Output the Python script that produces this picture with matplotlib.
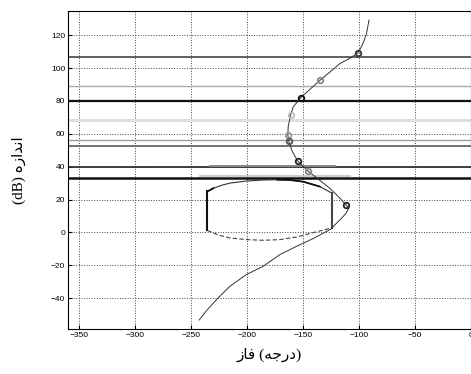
import matplotlib
matplotlib.use('Agg')
import matplotlib.pyplot as plt
import numpy as np

# open-loop response L(jw) on the Nichols plane (phase deg, magnitude dB)
loop_phase = [-90.8, -93.1, -96.5, -100.6, -108.0, -117.0, -126.0, -134.8, -143.5,
              -151.8, -158.6, -161.0, -163.1, -163.4, -162.5, -159.5, -154.7, -145.8,
              -135.0, -125.9, -117.0, -111.0, -108.8, -111.5, -115.5, -121.0, -124.4,
              -140.0, -155.6, -170.5, -185.4, -200.3, -215.0, -227.0, -236.0, -242.6]
loop_mag = [129.3, 120.8, 114.5, 109.3, 106.0, 102.7, 97.5, 92.5, 87.2,
            82.0, 76.4, 71.2, 64.2, 59.2, 55.4, 49.5, 43.6, 37.6,
            31.8, 26.9, 21.0, 16.5, 14.8, 11.5, 8.5, 4.8, 2.2,
            -3.5, -8.5, -13.5, -20.6, -25.6, -32.7, -40.8, -47.5, -53.3]

# design frequencies marked on the loop
mark_phase = [-100.6, -134.8, -151.8, -161.0, -163.4, -162.5, -154.7, -145.8, -111.0]
mark_mag = [109.3, 92.5, 82.0, 71.2, 59.2, 55.4, 43.6, 37.6, 16.5]
mark_color = ['#333333', '#888888', '#111111', '#bbbbbb', '#999999', '#555555',
              '#222222', '#888888', '#222222']

# horizontal bounds (dB) and their shades / widths
bound_mag = [106.7, 89.0, 80.0, 68.3, 56.2, 52.7, 40.0, 33.0]
bound_color = ['#555555', '#aaaaaa', '#111111', '#dddddd', '#999999', '#666666',
               '#333333', '#111111']
bound_lw = [1.3, 1.0, 1.6, 2.0, 1.0, 1.3, 1.3, 1.8]

# partial bounds: (phase start, phase end, dB)
part_start = [-233.0, -242.0]
part_end = [-121.0, -108.0]
part_mag = [40.7, 34.3]
part_color = ['#888888', '#cccccc']

# closed contour (forbidden region)
top_phase = [-235.4, -230.0, -222.0, -215.2, -200.0, -185.4, -173.0, -161.6, -149.7,
             -134.8, -123.8]
top_mag = [24.9, 26.9, 28.8, 30.0, 31.3, 31.9, 32.1, 31.9, 30.9, 27.9, 23.9]
bot_phase = [-235.4, -226.0, -215.2, -200.0, -185.4, -170.5, -155.6, -140.0, -124.4]
bot_mag = [1.2, -1.5, -3.4, -4.4, -4.8, -4.4, -2.8, 0.0, 2.7]
left_edge = -235.4
right_edge = -124.0

fig = plt.figure(figsize=(4.71, 3.74), dpi=100)
ax = fig.add_axes([0.1444, 0.1195, 0.8546, 0.852])

ax.set_xlim(-360, 0)
ax.set_ylim(-59, 135)
ax.set_xticks(np.arange(-350, 1, 50))
ax.set_yticks(np.arange(-40, 121, 20))
ax.grid(True, linestyle=':', color='#444444', linewidth=0.7)
ax.tick_params(direction='in', length=3, labelsize=6, pad=2)
for lab in ax.get_xticklabels() + ax.get_yticklabels():
    lab.set_family('Liberation Sans')

for m, c, w in zip(bound_mag, bound_color, bound_lw):
    ax.axhline(m, color=c, linewidth=w, zorder=2)
for x0, x1, m, c in zip(part_start, part_end, part_mag, part_color):
    ax.plot([x0, x1], [m, m], color=c, linewidth=1.4, zorder=2)

ax.plot(top_phase, top_mag, color='#333333', linewidth=0.8, zorder=3)
ax.plot(top_phase[6:10], top_mag[6:10], color='#111111', linewidth=1.3, zorder=3)
ax.plot(top_phase[:2], top_mag[:2], color='#111111', linewidth=1.3, zorder=3)
ax.plot(bot_phase, bot_mag, color='#444444', linewidth=0.8, linestyle=(0, (4, 2)), zorder=3)
ax.plot([left_edge, left_edge], [bot_mag[0], top_mag[0]], color='#111111', linewidth=1.5, zorder=3)
ax.plot([right_edge, right_edge], [bot_mag[-1], top_mag[-1]], color='#444444', linewidth=1.5, zorder=3)

ax.plot(loop_phase, loop_mag, color='#333333', linewidth=0.7, zorder=4)
for p, m, c in zip(mark_phase, mark_mag, mark_color):
    ax.plot(p, m, 'o', markersize=4, markerfacecolor='none', markeredgecolor=c,
            markeredgewidth=1.3, zorder=5)

# Persian labels written in shaped presentation forms
ax.set_xlabel('\ufeaf\ufe8e\ufed3 (\ufeea\ufe9f\ufead\ufea9)', fontsize=11,
              family=['Liberation Serif', 'DejaVu Sans'], labelpad=6)
ax.set_ylabel('(dB) \ufee9\ufeaf\ufe8d\ufeaa\ufee7\ufe8d', fontsize=11,
              family=['Liberation Serif', 'DejaVu Sans'], labelpad=18)

fig.savefig('out.png', dpi=100)
